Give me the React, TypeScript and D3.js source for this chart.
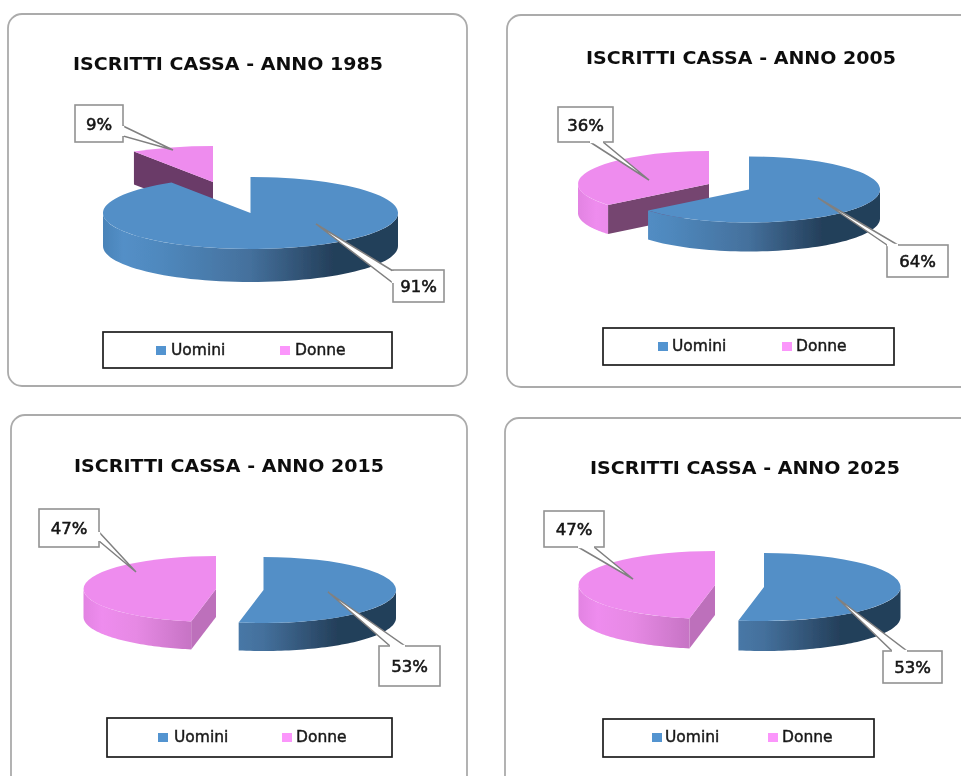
import React from "react";
import * as d3 from "d3";

// ---- data ----
const seriesNames = ["Uomini", "Donne"];
const years = ["1985", "2005", "2015", "2025"];
const uomini = [91, 64, 53, 53];
const donne = [9, 36, 47, 47];

// ---- layout (one entry per panel) ----
type P = [number, number];
const frames = [
  { x: 8, y: 14, w: 459, h: 372 },
  { x: 507, y: 15, w: 480, h: 372 },
  { x: 11, y: 415, w: 456, h: 375 },
  { x: 505, y: 418, w: 480, h: 375 },
];
const titles = [
  { x: 73, y: 70 },
  { x: 586, y: 64 },
  { x: 74, y: 472 },
  { x: 590, y: 474 },
];
const pies = [
  { ux: 250.5, uy: 213, dx: 213, dy: 182, rx: 147.5, ry: 36, depth: 33, face: "#6b3a68" },
  { ux: 749, uy: 189.5, dx: 709, dy: 184, rx: 131, ry: 33, depth: 29, face: "#74456f" },
  { ux: 263.5, uy: 590, dx: 216, dy: 589, rx: 132.5, ry: 33, depth: 28, face: "#bd6fbb" },
  { ux: 764, uy: 587, dx: 715, dy: 585, rx: 136.5, ry: 34, depth: 30, face: "#bd6fbb" },
];
const calloutsU: { box: number[]; tip: P; base: [P, P] }[] = [
  { box: [393, 270, 51, 32], tip: [316, 224], base: [[393, 271], [393, 283]] },
  { box: [887, 245, 61, 32], tip: [818, 198], base: [[887, 245], [898, 245]] },
  { box: [379, 646, 61, 40], tip: [328, 592], base: [[390, 646], [405, 646]] },
  { box: [883, 651, 59, 32], tip: [836, 597], base: [[892, 651], [907, 651]] },
];
const calloutsD: { box: number[]; tip: P; base: [P, P] }[] = [
  { box: [75, 105, 48, 37], tip: [173, 150], base: [[123, 126], [123, 136]] },
  { box: [558, 107, 55, 35], tip: [649, 180], base: [[590, 142], [603, 142]] },
  { box: [39, 509, 60, 38], tip: [136, 572], base: [[99, 532], [99, 541]] },
  { box: [544, 511, 60, 36], tip: [633, 579], base: [[578, 547], [594, 547]] },
];
const legends = [
  { x: 103, y: 332, w: 289, h: 36, s1: 156, t1: 171, s2: 280, t2: 295, base: 355 },
  { x: 603, y: 328, w: 291, h: 37, s1: 658, t1: 672, s2: 782, t2: 796, base: 351 },
  { x: 107, y: 718, w: 285, h: 39, s1: 158, t1: 174, s2: 282, t2: 296, base: 742 },
  { x: 603, y: 719, w: 271, h: 38, s1: 652, t1: 665, s2: 768, t2: 782, base: 742 },
];

const BLUE = "#538fc7";
const PINK = "#ee8cee";
const FONT = "'DejaVu Sans', Verdana, sans-serif";

const pieGen = d3
  .pie<number>()
  .sort(null)
  .value((d) => d);

function frontWall(a0: number, a1: number, cx: number, cy: number, rx: number, ry: number, depth: number) {
  const lo = Math.max(a0, Math.PI / 2);
  const hi = Math.min(a1, (3 * Math.PI) / 2);
  if (hi <= lo) return null;
  const angles = d3.range(0, 61).map((i) => lo + ((hi - lo) * i) / 60);
  return d3
    .area<number>()
    .x((a) => cx + rx * Math.sin(a))
    .y0((a) => cy - ry * Math.cos(a))
    .y1((a) => cy - ry * Math.cos(a) + depth)(angles);
}

function Slice({ a0, a1, cx, cy, rx, ry, depth, top, wall, face }: any) {
  const arc = d3.arc<any>().innerRadius(0).outerRadius(rx).startAngle(a0).endAngle(a1);
  const corner: P = [cx + rx * Math.sin(a0), cy - ry * Math.cos(a0)];
  const line = d3.line();
  const faceD = face
    ? line([[cx, cy], corner, [corner[0], corner[1] + depth], [cx, cy + depth]]) + "Z"
    : null;
  return (
    <g>
      {faceD && <path d={faceD} fill={face} />}
      <path d={frontWall(a0, a1, cx, cy, rx, ry, depth) || ""} fill={wall} />
      <path d={arc(null) || ""} fill={top} transform={`translate(${cx},${cy}) scale(1,${ry / rx})`} />
    </g>
  );
}

function Callout({ c, text }: { c: { box: number[]; tip: P; base: [P, P] }; text: string }) {
  const [x, y, w, h] = c.box;
  const d = d3.line()([c.base[0], c.tip, c.base[1]]) || "";
  return (
    <g>
      <path d={d + "Z"} fill="#fff" stroke="#808080" strokeWidth={1.5} strokeLinejoin="miter" />
      <rect x={x} y={y} width={w} height={h} fill="#fff" stroke="#929292" strokeWidth={1.6} />
      <line x1={c.base[0][0]} y1={c.base[0][1]} x2={c.base[1][0]} y2={c.base[1][1]} stroke="#fff" strokeWidth={2.4} />
      <text
        x={x + w / 2}
        y={y + h / 2 + 6}
        textAnchor="middle"
        fontFamily={FONT}
        fontSize={16.5}
        fontWeight={400}
        stroke="#141414"
        strokeWidth={0.55}
        fill="#141414"
      >
        {text}
      </text>
    </g>
  );
}

export default function App() {
  return (
    <svg
      width={961}
      height={776}
      viewBox="0 0 961 776"
      style={{ position: "absolute", left: 0, top: 0, display: "block", background: "#fff" }}
    >
      <defs>
        <filter id="soft" filterUnits="userSpaceOnUse" x={0} y={0} width={961} height={776}>
          <feGaussianBlur stdDeviation={0.5} />
        </filter>
        {pies.map((p, i) => (
          <React.Fragment key={i}>
            <linearGradient id={`bw${i}`} gradientUnits="userSpaceOnUse" x1={p.ux - p.rx} x2={p.ux + p.rx} y1={0} y2={0}>
              <stop offset={0} stopColor="#4a83b8" />
              <stop offset={0.07} stopColor={BLUE} />
              <stop offset={0.2} stopColor="#4f88bd" />
              <stop offset={0.5} stopColor="#44709c" />
              <stop offset={0.78} stopColor="#243f5a" />
              <stop offset={1} stopColor="#243f5a" />
            </linearGradient>
            <linearGradient id={`pw${i}`} gradientUnits="userSpaceOnUse" x1={p.dx - p.rx} x2={p.dx + p.rx} y1={0} y2={0}>
              <stop offset={0} stopColor="#e283e2" />
              <stop offset={0.07} stopColor={PINK} />
              <stop offset={0.2} stopColor="#e689e4" />
              <stop offset={0.41} stopColor="#c673c4" />
              <stop offset={1} stopColor="#8a4f88" />
            </linearGradient>
          </React.Fragment>
        ))}
      </defs>
      <g filter="url(#soft)">
        {years.map((year, i) => {
          const f = frames[i];
          const t = titles[i];
          const p = pies[i];
          const l = legends[i];
          const [su, sd] = pieGen([uomini[i], donne[i]]);
          return (
            <g key={year}>
              <rect x={f.x} y={f.y} width={f.w} height={f.h} rx={14} ry={14} fill="#fff" stroke="#ababab" strokeWidth={1.8} />
              <text
                x={t.x}
                y={t.y}
                textLength={310}
                lengthAdjust="spacingAndGlyphs"
                fontFamily={FONT}
                fontSize={17.5}
                fontWeight={700}
                fill="#111"
              >
                {`ISCRITTI CASSA - ANNO ${year}`}
              </text>
              <Slice a0={sd.startAngle} a1={sd.endAngle} cx={p.dx} cy={p.dy} rx={p.rx} ry={p.ry} depth={p.depth} top={PINK} wall={`url(#pw${i})`} face={p.face} />
              <Slice a0={su.startAngle} a1={su.endAngle} cx={p.ux} cy={p.uy} rx={p.rx} ry={p.ry} depth={p.depth} top={BLUE} wall={`url(#bw${i})`} />
              <Callout c={calloutsD[i]} text={`${donne[i]}%`} />
              <Callout c={calloutsU[i]} text={`${uomini[i]}%`} />
              <rect x={l.x} y={l.y} width={l.w} height={l.h} fill="#fff" stroke="#1c1c1c" strokeWidth={1.7} />
              <rect x={l.s1} y={l.base - 9} width={10} height={9} fill="#5294d0" />
              <rect x={l.s2} y={l.base - 9} width={10} height={9} fill="#fb96fb" />
              {[
                [l.t1, seriesNames[0]],
                [l.t2, seriesNames[1]],
              ].map(([x, s]) => (
                <text key={s as string} x={x as number} y={l.base} fontFamily={FONT} fontSize={15.5} stroke="#1a1a1a" strokeWidth={0.45} fill="#1a1a1a">
                  {s}
                </text>
              ))}
            </g>
          );
        })}
      </g>
    </svg>
  );
}
